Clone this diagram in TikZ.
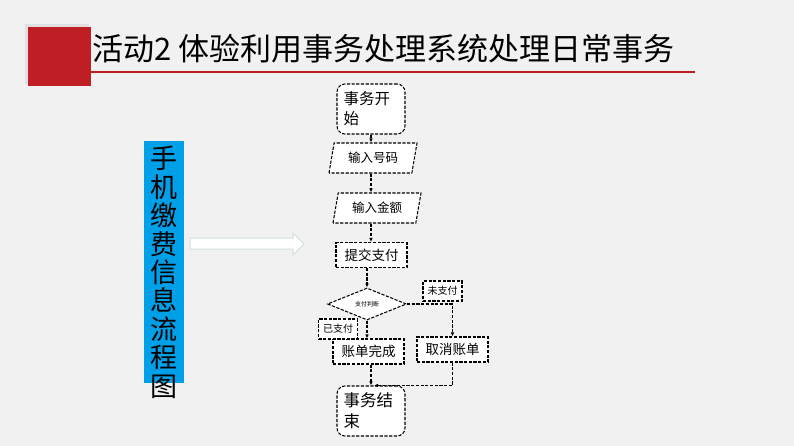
\documentclass[tikz,border=0pt]{standalone}
\usepackage{fontspec}
\setmainfont{Noto Sans CJK SC}
\usetikzlibrary{arrows.meta,shapes.geometric,positioning}
\definecolor{bgrey}{RGB}{241,241,241}
\definecolor{titlered}{RGB}{190,30,36}
\definecolor{sideblue}{RGB}{0,160,233}
\definecolor{arrowedge}{RGB}{208,222,226}
\tikzset{
  dline/.style={draw, dash pattern=on 3.2pt off 1.5pt, line width=1.05pt},
  flowbox/.style={dline, fill=white, inner sep=0pt, minimum width=71pt, minimum height=25pt, font=\fontsize{13.5}{16}\selectfont},
  termbox/.style={dline, fill=white, rounded corners=8pt, minimum width=68pt, minimum height=50pt, text width=55pt, align=left, inner sep=0pt, font=\fontsize{15.5}{20}\selectfont},
  iobox/.style={dline, fill=white, trapezium, trapezium left angle=66, trapezium right angle=114, trapezium stretches body, minimum width=88pt, minimum height=30pt, inner sep=0pt, font=\fontsize{12.5}{14}\selectfont},
  tagbox/.style={dline, fill=white, minimum width=39pt, minimum height=20pt, inner sep=0pt, font=\fontsize{10}{12}\selectfont},
  flow/.style={dline, -{Latex[length=4pt,width=3.5pt]}},
}
\begin{document}
\begin{tikzpicture}[x=1pt,y=-1pt]
  \useasboundingbox (0,0) rectangle (794,446);
  \fill[bgrey] (0,0) rectangle (794,446);

  % title bar
  \fill[black!12] (25,24) rectangle (89,84);
  \fill[titlered] (28,27) rectangle (91,86);
  \node[anchor=west, inner sep=0pt, font=\fontsize{31}{36}\selectfont] (title) at (92,49) {活动2 体验利用事务处理系统处理日常事务};
  \draw[titlered, line width=2.5pt] (91,72) -- (695,72);

  % side label
  \fill[sideblue] (144,141) rectangle (184,383);
  \node[anchor=north, align=center, inner sep=0pt, font=\fontsize{27}{28.4}\selectfont] (side) at (164,146) {手\\机\\缴\\费\\信\\息\\流\\程\\图};
  \draw[arrowedge, fill=white, line width=1pt] (190,238) -- (293,238) -- (293,233) -- (304,244)
    -- (293,255) -- (293,249) -- (190,249) -- cycle;

  % flow chart
  \node[termbox] (start) at (371,109) {事务开\\始};
  \node[iobox] (num) at (373,158) {输入号码};
  \node[iobox] (amt) at (377,208) {输入金额};
  \node[flowbox] (submit) at (371.5,255) {提交支付};
  \node[diamond, dline, fill=white, minimum width=79pt, minimum height=32pt, inner sep=0pt, font=\fontsize{6}{7}\selectfont] (judge) at (367,304) {支付判断};
  \node[flowbox] (done) at (368.5,351.5) {账单完成};
  \node[flowbox] (cancel) at (452.5,349.5) {取消账单};
  \node[termbox, font=\fontsize{16.5}{21}\selectfont] (finish) at (371,411) {事务结\\束};
  \node[tagbox] (unpaid) at (442.5,291) {未支付};
  \node[tagbox] (paid) at (338,329) {已支付};

  \draw[flow] (start.south) -- (start.south |- num.north);
  \draw[flow] (num.south -| start.south) -- (amt.north -| start.south);
  \draw[flow] (amt.south -| start.south) -- (submit.north -| start.south);
  \draw[flow] (submit.south -| judge.north) -- (judge.north);
  \draw[flow] (judge.south) -- (judge.south |- done.north);
  \draw[flow] (judge.east) -| (cancel.north);
  \draw[flow] (done.south -| finish.north) -- (finish.north);
  \draw[flow] (cancel.south) |- ([xshift=3pt]finish.north);
\end{tikzpicture}
\end{document}
